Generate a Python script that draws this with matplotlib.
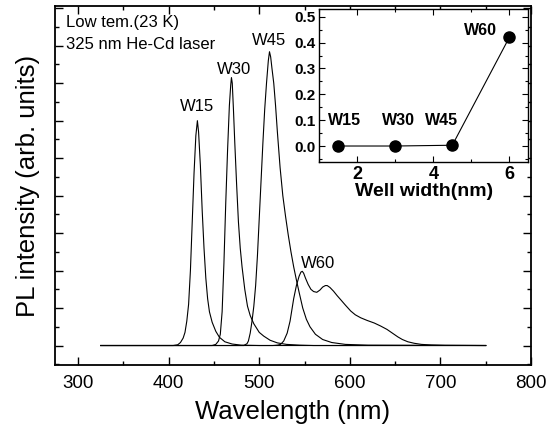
import matplotlib
matplotlib.use("Agg")
import matplotlib.pyplot as plt
from matplotlib.ticker import MultipleLocator, NullFormatter

plt.rcParams['font.family'] = ['Liberation Sans', 'DejaVu Sans']

# PL spectra (wavelength nm, intensity arb.)
w15_x = [325, 405, 410, 413, 416, 418, 420, 422, 424, 426, 428, 430, 431.7, 433, 435, 437, 439,
         441, 443, 445, 448, 452, 456, 462, 470, 480, 500, 750]
w15_y = [0, 0, 0.02, 0.08, 0.2, 0.35, 0.65, 1.1, 2.0, 3.3, 4.6, 5.6, 6.0, 5.7, 4.8, 3.6, 2.6,
         1.8, 1.25, 0.9, 0.62, 0.38, 0.22, 0.1, 0.04, 0.01, 0, 0]

w30_x = [325, 448, 452, 455, 457, 459, 461, 463, 465, 467, 468.5, 469.3, 470.2, 471.5, 473, 475,
         477, 479, 481, 484, 487, 490, 494, 500, 505, 512, 520, 530, 545, 560, 750]
w30_y = [0, 0, 0.03, 0.12, 0.3, 0.9, 2.2, 3.8, 5.2, 6.4, 6.95, 7.15, 7.0, 6.3, 5.4, 4.3,
         3.3, 2.6, 2.1, 1.5, 1.05, 0.8, 0.58, 0.35, 0.25, 0.14, 0.07, 0.03, 0.01, 0, 0]

w45_x = [325, 483, 486.5, 488, 490, 492, 494, 496, 498, 500, 502, 504, 506, 508, 510, 511.3,
         512.6, 514, 516, 518, 520, 523, 526, 529, 532, 535, 538, 541, 544, 548, 552, 556, 562,
         570, 580, 595, 620, 750]
w45_y = [0, 0, 0.05, 0.12, 0.33, 0.65, 1.05, 1.6, 2.4, 3.4, 4.4, 5.4, 6.3, 7.0, 7.6, 7.84,
         7.7, 7.4, 7.0, 6.4, 5.7, 4.75, 4.0, 3.45, 2.95, 2.5, 2.1, 1.75, 1.42, 1.0, 0.7, 0.5, 0.3,
         0.16, 0.08, 0.03, 0.01, 0]

w60_x = [325, 515, 520, 523.5, 527, 530.8, 534, 538, 541, 544, 546, 547.5, 549, 551, 554, 557,
         560, 563.5, 567, 570, 573, 575, 578, 582, 586, 590, 595, 601, 606, 612, 619, 627, 634,
         641, 647, 653, 658, 664, 671, 679, 690, 705, 750]
w60_y = [0, 0, 0.01, 0.03, 0.12, 0.33, 0.65, 1.25, 1.6, 1.85, 1.96, 1.98, 1.93, 1.8, 1.63, 1.5,
         1.44, 1.42, 1.48, 1.56, 1.6, 1.6, 1.55, 1.45, 1.33, 1.22, 1.08, 0.92, 0.82, 0.74, 0.67,
         0.6, 0.52, 0.43, 0.33, 0.23, 0.16, 0.1, 0.06, 0.03, 0.015, 0.005, 0]

spectra = [(w15_x, w15_y), (w30_x, w30_y), (w45_x, w45_y), (w60_x, w60_y)]
peak_labels = ['W15', 'W30', 'W45', 'W60']
peak_label_x = [431.8, 471.7, 510.4, 564.7]
peak_label_y = [6.37, 7.37, 8.13, 2.2]

# inset: ratio vs well width
well_width = [1.5, 3.0, 4.5, 6.0]
ratio = [0.0, 0.0, 0.003, 0.42]
inset_label_x = [1.67, 3.08, 4.21, 5.25]
inset_label_y = [0.098, 0.098, 0.098, 0.445]

fig = plt.figure(figsize=(5.55, 4.34), dpi=100)
ax = fig.add_axes([55 / 555, 1 - 365 / 434, (531 - 55) / 555, (365 - 6) / 434])

for x, y in spectra:
    ax.plot(x, y, color='black', lw=0.8)

for lab, lx, ly in zip(peak_labels, peak_label_x, peak_label_y):
    ax.text(lx, ly, lab, ha='center', va='center', fontsize=12)

ax.text(287.1, 8.62, 'Low tem.(23 K)', ha='left', va='center', fontsize=12)
ax.text(287.1, 8.04, '325 nm He-Cd laser', ha='left', va='center', fontsize=12)

ax.set_xlim(274.5, 800)
ax.set_ylim(-0.52, 9.06)
ax.xaxis.set_major_locator(MultipleLocator(100))
ax.xaxis.set_minor_locator(MultipleLocator(50))
ax.yaxis.set_major_locator(MultipleLocator(1))
ax.yaxis.set_minor_locator(MultipleLocator(0.5))
ax.yaxis.set_major_formatter(NullFormatter())
ax.tick_params(which='both', direction='in', top=True, right=True, width=1.0)
ax.tick_params(which='major', length=5.5, labelsize=13.5, pad=7)
ax.tick_params(which='minor', length=3)
for s in ax.spines.values():
    s.set_linewidth(1.3)
ax.set_xlabel('Wavelength (nm)', fontsize=18.5, labelpad=6)
ax.set_ylabel('PL intensity (arb. units)', fontsize=18.5, labelpad=4)

# inset
axi = fig.add_axes([319.3 / 555, 1 - 162.3 / 434, (528.3 - 319.3) / 555, (162.3 - 9) / 434])
axi.plot(well_width, ratio, color='black', lw=0.8, marker='o', markersize=8)
for lab, lx, ly in zip(peak_labels, inset_label_x, inset_label_y):
    axi.text(lx, ly, lab, ha='center', va='center', fontsize=11.5, fontweight='bold')
axi.set_xlim(1.0, 6.5)
axi.set_ylim(-0.063, 0.53)
axi.xaxis.set_major_locator(MultipleLocator(2))
axi.xaxis.set_minor_locator(MultipleLocator(1))
axi.yaxis.set_major_locator(MultipleLocator(0.1))
axi.yaxis.set_minor_locator(MultipleLocator(0.05))
axi.yaxis.set_major_formatter(plt.FormatStrFormatter('%.1f'))
axi.tick_params(which='both', direction='in', top=True, right=True, width=0.8)
axi.tick_params(which='major', length=4, pad=3)
axi.tick_params(which='minor', length=2)
axi.tick_params(axis='y', labelsize=11)
axi.tick_params(axis='x', labelsize=13)
for lbl in axi.get_xticklabels() + axi.get_yticklabels():
    lbl.set_fontweight('bold')
for s in axi.spines.values():
    s.set_linewidth(1.0)
axi.set_xlabel('Well width(nm)', fontsize=14, fontweight='bold', labelpad=0)

fig.savefig('out.png', dpi=100)
